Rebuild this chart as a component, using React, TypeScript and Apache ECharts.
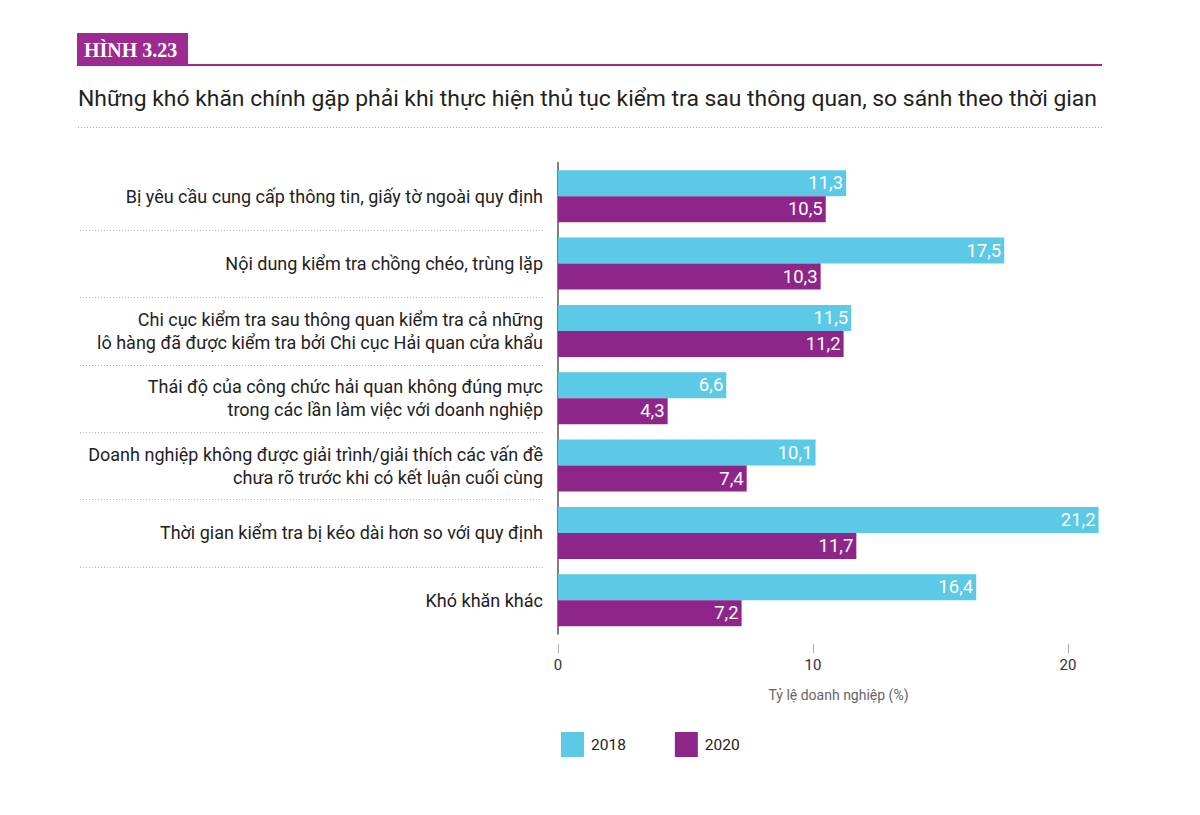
import React, { useEffect, useRef } from "react";
import * as echarts from "echarts";

const categories = [
  "Bị yêu cầu cung cấp thông tin, giấy tờ ngoài quy định",
  "Nội dung kiểm tra chồng chéo, trùng lặp",
  "Chi cục kiểm tra sau thông quan kiểm tra cả những\nlô hàng đã được kiểm tra bởi Chi cục Hải quan cửa khẩu",
  "Thái độ của công chức hải quan không đúng mực\ntrong các lần làm việc với doanh nghiệp",
  "Doanh nghiệp không được giải trình/giải thích các vấn đề\nchưa rõ trước khi có kết luận cuối cùng",
  "Thời gian kiểm tra bị kéo dài hơn so với quy định",
  "Khó khăn khác",
];
const values2018 = [11.3, 17.5, 11.5, 6.6, 10.1, 21.2, 16.4];
const values2020 = [10.5, 10.3, 11.2, 4.3, 7.4, 11.7, 7.2];
const tickValues = [0, 10, 20];
const seriesNames = ["2018", "2020"];

const CYAN = "#5cc9e7";
const PURPLE = "#8e268a";
const FONT = "Roboto, 'Noto Sans', sans-serif";

export default function App() {
  const ref = useRef<HTMLDivElement>(null);
  useEffect(() => {
    if (!ref.current) return;
    const chart = echarts.init(ref.current, null, { renderer: "svg" });
    const gridTop = 162.5;
    const gridBottomY = 634;
    const band = (gridBottomY - gridTop) / categories.length;
    const seps: any[] = [];
    for (let k = 1; k < categories.length; k++) {
      const y = Math.round(gridTop + k * band) + 0.5;
      seps.push({
        type: "line",
        shape: { x1: 80, y1: y, x2: 545, y2: y },
        style: { stroke: "#b8b8b8", lineWidth: 1, lineDash: [1, 2] },
        silent: true,
      });
    }
    const fmt = (p: any) => String(p.value).replace(".", ",");
    chart.setOption({
      animation: false,
      textStyle: { fontFamily: FONT },
      grid: {
        left: 558,
        top: gridTop,
        width: 22 * 25.5,
        height: gridBottomY - gridTop,
        containLabel: false,
      },
      legend: {
        left: 556,
        top: 727,
        itemWidth: 23,
        itemHeight: 25,
        itemGap: 49,
        icon: "rect",
        data: seriesNames,
        textStyle: { fontSize: 15.5, color: "#222", fontFamily: FONT, padding: [0, 0, 0, 2] },
      },
      xAxis: {
        type: "value",
        min: 0,
        max: 22,
        interval: 10,
        offset: 10,
        axisLine: { show: false },
        axisTick: { show: true, length: 9, customValues: tickValues, lineStyle: { color: "#aaa" } },
        splitLine: { show: false },
        axisLabel: { customValues: tickValues, margin: 13, fontSize: 15, color: "#333", fontFamily: FONT },
        name: "Tỷ lệ doanh nghiệp (%)",
        nameLocation: "middle",
        nameGap: 44,
        nameTextStyle: { fontSize: 14, color: "#666", fontFamily: FONT },
      },
      yAxis: {
        type: "category",
        inverse: true,
        data: categories,
        axisLine: { show: true, lineStyle: { color: "#555", width: 1.5 } },
        axisTick: { show: false },
        axisLabel: { margin: 15, fontSize: 18, lineHeight: 23, color: "#222", align: "right", fontFamily: FONT },
      },
      series: [
        {
          name: seriesNames[0],
          type: "bar",
          data: values2018,
          barWidth: 26,
          barGap: "0%",
          itemStyle: { color: CYAN },
          label: { show: true, position: "insideRight", distance: 3, color: "#fff", fontSize: 18.5, formatter: fmt, fontFamily: FONT },
        },
        {
          name: seriesNames[1],
          type: "bar",
          data: values2020,
          barWidth: 26,
          barGap: "0%",
          itemStyle: { color: PURPLE },
          label: { show: true, position: "insideRight", distance: 3, color: "#fff", fontSize: 18.5, formatter: fmt, fontFamily: FONT },
        },
      ],
      graphic: [
        { type: "rect", shape: { x: 77, y: 33, width: 111, height: 32 }, style: { fill: "#9c2a90" }, silent: true },
        { type: "text", x: 84, y: 50, style: { text: "HÌNH 3.23", fill: "#fff", font: "bold 20px 'Liberation Serif', serif", verticalAlign: "middle" }, silent: true },
        { type: "line", shape: { x1: 77, y1: 65, x2: 1102, y2: 65 }, style: { stroke: "#9c2a90", lineWidth: 2 }, silent: true },
        { type: "text", x: 78, y: 98, style: { text: "Những khó khăn chính gặp phải khi thực hiện thủ tục kiểm tra sau thông quan, so sánh theo thời gian", fill: "#231f20", font: "22.9px " + FONT, verticalAlign: "middle" }, silent: true },
        { type: "line", shape: { x1: 78, y1: 127.5, x2: 1102, y2: 127.5 }, style: { stroke: "#aaa", lineWidth: 1, lineDash: [1, 2] }, silent: true },
        ...seps,
      ],
    });
    return () => chart.dispose();
  }, []);
  return <div ref={ref} style={{ width: 1200, height: 815, position: "absolute", left: 0, top: 0 }} />;
}
